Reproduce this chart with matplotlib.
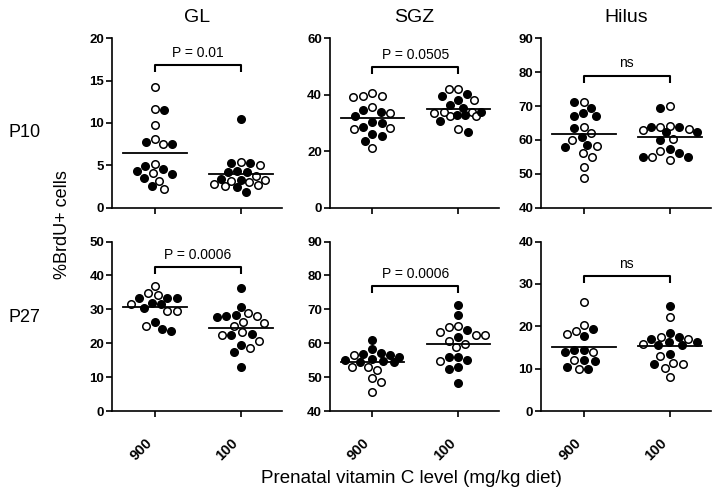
import numpy as np
import matplotlib
matplotlib.use('Agg')
import matplotlib.pyplot as plt

groups = ["900", "100"]
regions = ["GL", "SGZ", "Hilus"]
ages = ["P10", "P27"]

# P10 values (%BrdU+ cells), open / filled symbols
gl10_900_open = [14.2, 11.6, 9.7, 7.5, 8.15, 5.15, 4.05, 3.2, 2.2]
gl10_900_filled = [11.5, 7.7, 7.5, 4.55, 4.0, 4.35, 4.9, 3.5, 2.5]
gl10_100_open = [5.0, 5.4, 3.75, 2.8, 2.6, 3.1, 3.3, 2.7, 3.0]
gl10_100_filled = [10.45, 5.3, 5.25, 4.35, 4.2, 4.25, 3.3, 3.4, 2.4, 1.8]

sgz10_900_open = [40.6, 39.6, 39.1, 39.7, 35.7, 33.7, 27.8, 28.1, 21.0]
sgz10_900_filled = [34.0, 32.6, 34.6, 30.2, 28.7, 29.9, 25.5, 26.0, 23.7]
sgz10_100_open = [42.0, 42.0, 38.0, 27.9, 33.8, 32.6, 32.6, 33.7, 33.8]
sgz10_100_filled = [39.7, 38.3, 40.2, 33.8, 36.4, 35.4, 32.8, 32.8, 30.7, 26.9]

hil10_900_open = [71.3, 63.9, 61.9, 60.0, 58.3, 56.0, 54.9, 51.9, 48.7]
hil10_900_filled = [69.5, 71.1, 67.1, 67.1, 67.9, 63.4, 60.8, 58.5, 58.0]
hil10_100_open = [70.1, 62.9, 64.2, 63.2, 63.9, 60.3, 56.7, 55.1, 54.1]
hil10_100_filled = [69.3, 63.9, 62.4, 62.2, 63.9, 60.0, 57.3, 56.2, 55.1, 54.9]

# P27 values
gl27_900_open = [36.8, 34.1, 34.8, 31.6, 29.5, 29.4, 25.2]
gl27_900_filled = [33.3, 31.9, 30.3, 31.6, 33.3, 33.3, 23.7, 24.3, 26.2]
gl27_100_open = [25.0, 26.4, 26.0, 27.9, 28.8, 23.3, 20.8, 22.3, 18.6]
gl27_100_filled = [36.2, 30.8, 28.4, 27.9, 27.7, 22.7, 22.3, 19.4, 17.4, 13.0]

sgz27_900_open = [56.4, 53.0, 52.2, 53.0, 49.6, 48.6, 45.7]
sgz27_900_filled = [61.0, 58.2, 56.9, 56.4, 56.0, 55.0, 54.5, 54.4, 54.8, 55.4, 57.2]
sgz27_100_open = [65.0, 64.8, 62.5, 60.8, 63.3, 62.5, 58.9, 59.9, 54.8]
sgz27_100_filled = [71.3, 68.4, 63.8, 61.8, 55.9, 55.0, 53.0, 52.5, 55.8, 48.3]

hil27_900_open = [25.8, 20.2, 18.9, 18.1, 13.9, 12.0, 9.9]
hil27_900_filled = [17.6, 19.3, 14.5, 13.9, 14.3, 10.4, 10.0, 11.7, 12.0]
hil27_100_open = [22.2, 17.5, 16.9, 15.9, 13.0, 11.2, 11.4, 10.2, 8.1]
hil27_100_filled = [24.7, 18.5, 17.5, 16.9, 16.4, 15.5, 15.7, 16.4, 13.5, 11.2]

p_text = ["P = 0.01", "P = 0.0505", "ns", "P = 0.0006", "P = 0.0006", "ns"]

panel_data = [
    [(gl10_900_open, gl10_900_filled), (gl10_100_open, gl10_100_filled)],
    [(sgz10_900_open, sgz10_900_filled), (sgz10_100_open, sgz10_100_filled)],
    [(hil10_900_open, hil10_900_filled), (hil10_100_open, hil10_100_filled)],
    [(gl27_900_open, gl27_900_filled), (gl27_100_open, gl27_100_filled)],
    [(sgz27_900_open, sgz27_900_filled), (sgz27_100_open, sgz27_100_filled)],
    [(hil27_900_open, hil27_900_filled), (hil27_100_open, hil27_100_filled)],
]

# axes settings
ylims = [(0, 20), (0, 60), (40, 90), (0, 50), (40, 90), (0, 40)]
ystep = [5, 20, 10, 10, 10, 10]
bracket_y = [16.85, 49.7, 79.0, 42.4, 77.0, 31.8]

text_font = ['Liberation Sans', 'DejaVu Sans']
plt.rcParams['font.family'] = text_font

MS = 5.4        # marker size (pt)
MEW = 1.1
D_PX = 9.5      # min centre distance in the swarm, px
W_PX = 27       # max sideways spread, px


def swarm_x(ax, xc, ys):
    # points at similar heights are pushed apart sideways, within +-W_PX;
    # when a row is full the point goes where it overlaps least
    pts = ax.transData.transform(np.column_stack([np.full(len(ys), xc), ys]))
    order = np.argsort(-pts[:, 1])
    placed = []
    xs = np.zeros(len(ys))
    steps = np.arange(0, W_PX + 0.01, 0.5)
    for n, i in enumerate(order):
        y = pts[i, 1]
        sgn = 1 if n % 2 == 0 else -1
        cands = [0.0]
        for k in steps[1:]:
            cands += [sgn * k, -sgn * k]
        best, best_d = None, -1
        for off in cands:
            dmin = min([np.hypot(off - px, y - py) for px, py in placed] or [1e9])
            if dmin >= D_PX:
                best = off
                break
            if dmin > best_d:
                best, best_d = off, dmin
        placed.append((best, y))
        xs[i] = pts[i, 0] + best
    back = ax.transData.inverted().transform(np.column_stack([xs, pts[:, 1]]))
    return back[:, 0]


fig = plt.figure(figsize=(7.16, 4.94), dpi=100)
lefts = [0.1564, 0.4602, 0.7556]
bottoms = [0.5796, 0.168]
w, h = 0.2374, 0.343

for idx in range(6):
    r, c = divmod(idx, 3)
    ax = fig.add_axes([lefts[c], bottoms[r], w, h])
    lo, hi = ylims[idx]
    ax.set_xlim(-0.5, 1.48)
    ax.set_ylim(lo, hi)
    ax.set_yticks(np.arange(lo, hi + 0.01, ystep[idx]))
    ax.set_xticks([0, 1])
    if r == 1:
        ax.set_xticklabels(groups, rotation=45, ha='right', fontsize=10.5,
                           fontweight='bold')
    else:
        ax.set_xticklabels([])
    for lab in ax.get_yticklabels():
        lab.set_fontsize(9.5)
        lab.set_fontweight('bold')
    ax.tick_params(axis='both', direction='out', length=4, width=1.2, pad=1.5)
    ax.tick_params(axis='x', pad=14)
    for s in ['top', 'right']:
        ax.spines[s].set_visible(False)
    for s in ['left', 'bottom']:
        ax.spines[s].set_linewidth(1.2)
    ax.patch.set_alpha(0)

    for g, (opn, fil) in enumerate(panel_data[idx]):
        ys = np.array(opn + fil, dtype=float)
        filled = np.array([False] * len(opn) + [True] * len(fil))
        xs = swarm_x(ax, g, ys)
        ax.plot(xs[~filled], ys[~filled], 'o', ms=MS, mfc='white', mec='black',
                mew=MEW, ls='none', zorder=3)
        ax.plot(xs[filled], ys[filled], 'o', ms=MS, mfc='black', mec='black',
                mew=MEW, ls='none', zorder=3)
        m = ys.mean()
        ax.plot([g - 0.37, g + 0.37], [m, m], color='black', lw=1.3, zorder=4)

    # significance bracket
    rng = hi - lo
    by = bracket_y[idx]
    ax.plot([0, 0, 1, 1], [by - 0.042 * rng, by, by, by - 0.042 * rng],
            color='black', lw=1.5, clip_on=False, solid_capstyle='butt')
    ax.text(0.5, by + 0.03 * rng, p_text[idx], ha='center', va='bottom',
            fontsize=10)

    if r == 0:
        ax.set_title(regions[c], fontsize=14, pad=12)

fig.text(0.012, 1 - 132 / 494, ages[0], fontsize=13, ha='left', va='center')
fig.text(0.012, 1 - 317 / 494, ages[1], fontsize=13, ha='left', va='center')
fig.text(0.087, 1 - 225 / 494, '%BrdU+ cells', fontsize=13, rotation=90,
         ha='center', va='center')
fig.text(0.575, 1 - 478 / 494, 'Prenatal vitamin C level (mg/kg diet)',
         fontsize=13.5, ha='center', va='center')

fig.savefig('out.png', dpi=100)
